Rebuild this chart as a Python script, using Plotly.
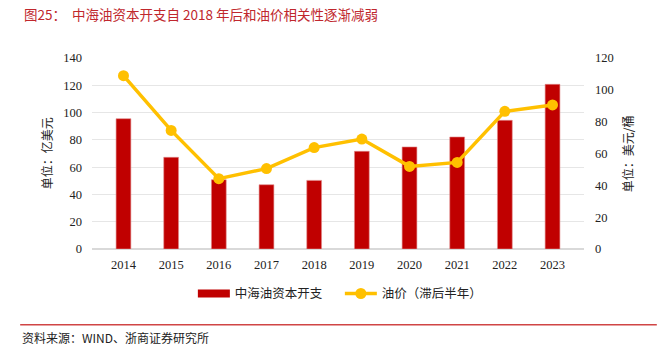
import plotly.graph_objects as go

years = ["2014", "2015", "2016", "2017", "2018", "2019", "2020", "2021", "2022", "2023"]
capex = [95.5, 67.2, 50.8, 47.1, 50.3, 71.6, 74.8, 82.1, 94.3, 120.7]
oil = [108.9, 74.5, 44.2, 50.5, 63.7, 69.1, 51.9, 54.4, 86.5, 90.5]
left_ticks = [0, 20, 40, 60, 80, 100, 120, 140]
right_ticks = [0, 20, 40, 60, 80, 100, 120]

cjk = "Noto Sans CJK SC"
serif = "Liberation Serif"
bar_color = "#C00000"
line_color = "#FFC000"

fig = go.Figure()
fig.add_trace(go.Bar(
    x=years, y=capex, name="中海油资本开支", showlegend=False,
    marker=dict(color=bar_color, line=dict(color="#E08A8A", width=0.6)),
    width=0.31, yaxis="y",
))
# legend-only entry rendering the bar swatch as a wide rectangle
fig.add_trace(go.Scatter(
    x=[None], y=[None], name="中海油资本开支", mode="lines",
    line=dict(color=bar_color, width=8), yaxis="y", hoverinfo="skip",
))
fig.add_trace(go.Scatter(
    x=years, y=oil, name="油价（滞后半年）", mode="lines+markers",
    line=dict(color=line_color, width=3.5),
    marker=dict(color=line_color, size=11),
    yaxis="y2",
))

fig.update_layout(
    width=671, height=354,
    margin=dict(l=92, r=87, t=58, b=105),
    paper_bgcolor="white", plot_bgcolor="white",
    showlegend=True,
    legend=dict(orientation="h", x=0.205, xanchor="left", y=-0.235, yanchor="middle",
                font=dict(family=cjk, size=12.5, color="#222"), itemwidth=32,
                entrywidth=100, entrywidthmode="pixels",
                tracegroupgap=0, traceorder="normal", bgcolor="rgba(0,0,0,0)"),
    xaxis=dict(type="category", tickfont=dict(family=serif, size=12.5, color="#222"),
               showgrid=False, showline=False, ticks="", ticklen=0, ticklabelstandoff=6),
    yaxis=dict(range=[0, 140], tickvals=left_ticks, ticktext=[str(v) for v in left_ticks],
               tickfont=dict(family=serif, size=12.5, color="#222"),
               showgrid=True, gridcolor="#E6E6E6", gridwidth=1,
               zeroline=True, zerolinecolor="#D9D9D9", zerolinewidth=1.5,
               ticks="", showline=False, ticklabelstandoff=9),
    yaxis2=dict(range=[0, 120], tickvals=right_ticks, ticktext=[str(v) for v in right_ticks],
                overlaying="y", side="right",
                tickfont=dict(family=serif, size=12.5, color="#222"),
                showgrid=False, zeroline=False, ticks="", showline=False, ticklabelstandoff=10),
    font=dict(family=cjk),
)

fig.add_annotation(text="图25：  中海油资本开支自 2018 年后和油价相关性逐渐减弱",
                   xref="paper", yref="paper", x=-0.142, y=1.232, xanchor="left", yanchor="middle",
                   showarrow=False, font=dict(family=cjk, size=13.5, color="#C0272D"))
fig.add_annotation(text="单位：亿美元", textangle=-90, xref="paper", yref="paper",
                   x=-0.092, y=0.50, xanchor="center", yanchor="middle", showarrow=False,
                   font=dict(family=cjk, size=12, color="#222"))
fig.add_annotation(text="单位：美元/桶", textangle=-90, xref="paper", yref="paper",
                   x=1.089, y=0.50, xanchor="center", yanchor="middle", showarrow=False,
                   font=dict(family=cjk, size=12, color="#222"))
fig.add_annotation(text="资料来源：WIND、浙商证券研究所",
                   xref="paper", yref="paper", x=-0.146, y=-0.465, xanchor="left", yanchor="middle",
                   showarrow=False, font=dict(family=cjk, size=12, color="#222"))
fig.add_shape(type="line", xref="paper", yref="paper", x0=-0.146, x1=1.148, y0=-0.397, y1=-0.397,
              line=dict(color="#D04545", width=1.5))

fig.write_html("out.html")
